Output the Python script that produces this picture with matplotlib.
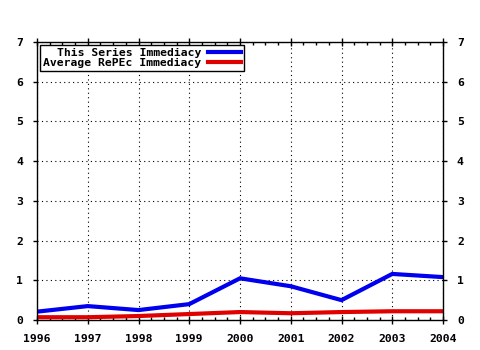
import numpy as np
import matplotlib
matplotlib.use("Agg")
import matplotlib.pyplot as plt
from matplotlib.ticker import MultipleLocator

years = [1996, 1997, 1998, 1999, 2000, 2001, 2002, 2003, 2004]
series_immediacy = [0.21, 0.35, 0.25, 0.40, 1.05, 0.85, 0.50, 1.16, 1.08]
repec_immediacy = [0.07, 0.07, 0.10, 0.15, 0.20, 0.17, 0.20, 0.22, 0.22]
labels = ["This Series Immediacy", "Average RePEc Immediacy"]

plt.rcParams["font.family"] = "DejaVu Sans Mono"
plt.rcParams["font.weight"] = "bold"
plt.rcParams["font.size"] = 8.2

fig = plt.figure(figsize=(4.8, 3.5), dpi=100)
ax = fig.add_axes([37/480, 1 - 320/350, 406/480, 278/350])

ax.plot(years, series_immediacy, color="#0000ee", lw=3.0, label=labels[0],
        solid_joinstyle="miter")
ax.plot(years, repec_immediacy, color="#e00000", lw=3.0, label=labels[1],
        solid_joinstyle="miter")

ax.set_xlim(1996, 2004)
ax.set_ylim(0, 7)
ax.xaxis.set_major_locator(MultipleLocator(1))
ax.xaxis.set_minor_locator(MultipleLocator(0.25))
ax.yaxis.set_major_locator(MultipleLocator(1))

ax.grid(True, which="major", color="black", lw=0.8, linestyle=(0, (1, 3)))

for s in ax.spines.values():
    s.set_linewidth(1.0)

ax.tick_params(axis="x", which="major", direction="inout", length=6, width=1,
               top=True, pad=7)
ax.tick_params(axis="x", which="minor", direction="in", length=2.5, width=1,
               top=True)
ax.tick_params(axis="y", which="major", direction="out", length=3, width=1,
               right=True, labelright=True, pad=7)

# legend text right-aligned, line samples after the text
leg = ax.legend(loc="upper left", markerfirst=False, frameon=True,
                fancybox=False, edgecolor="black", framealpha=1,
                borderpad=0.25, labelspacing=0.0, handlelength=2.9,
                handletextpad=0.6, borderaxespad=0.3)
leg.get_frame().set_linewidth(1.0)
leg._legend_box.align = "right"

fig.savefig("out.png", dpi=100)
